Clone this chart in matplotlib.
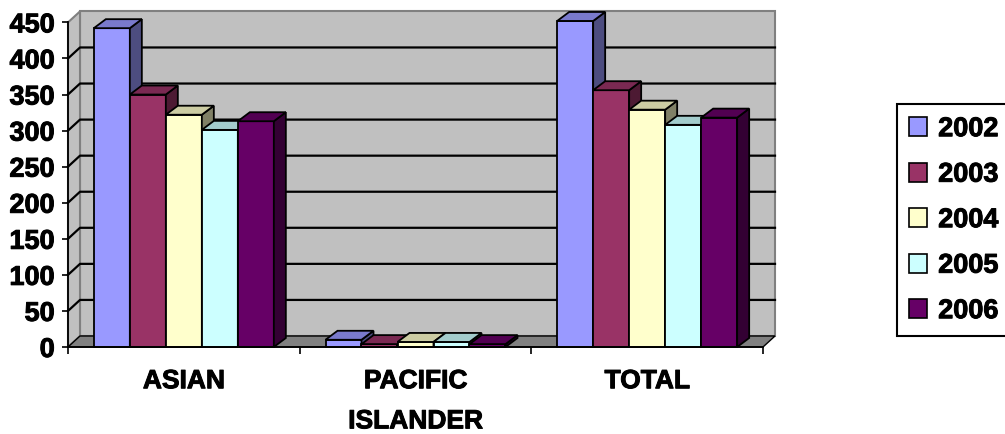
import matplotlib.pyplot as plt
import matplotlib.patheffects as pe
from matplotlib.patches import Polygon, Rectangle, Patch
from matplotlib.colors import to_rgb

plt.rcParams['font.family'] = ['Liberation Sans', 'DejaVu Sans']
plt.rcParams['font.weight'] = 'bold'

categories = ['ASIAN', 'PACIFIC\nISLANDER', 'TOTAL']
years = ['2002', '2003', '2004', '2005', '2006']
asian = [442, 350, 322, 301, 313]
pacific = [10, 4, 7, 7, 4]
total = [452, 356, 329, 308, 318]
yticks = [0, 50, 100, 150, 200, 250, 300, 350, 400, 450]

colors = ['#9999FF', '#993366', '#FFFFCC', '#CCFFFF', '#660066']


def shade(c, f):
    r, g, b = to_rgb(c)
    return (r * f, g * f, b * f)


fig = plt.figure(figsize=(10.05, 4.35), dpi=100)
W, H = 1005, 435
ax = fig.add_axes([68 / W, 87 / H, 695 / W, 324.6 / H])
ax.set_xlim(0, 3)
ax.set_ylim(0, 450)
ax.patch.set_visible(False)

# pixel -> data conversions for the fake 3d depth
px_x = 3 / 695
px_y = 450 / 324.6
wdx, wdy = 12 * px_x, 11 * px_y   # walls
bdx, bdy = 12 * px_x, 9 * px_y    # bars

# walls and floor
ax.add_patch(Rectangle((wdx, wdy), 3, 450, fc='#C0C0C0', ec='#808080', lw=1.5,
                       zorder=0.5, clip_on=False))
ax.add_patch(Polygon([(0, 0), (0, 450), (wdx, 450 + wdy), (wdx, wdy)],
                     fc='#C0C0C0', ec='#808080', lw=1.5, zorder=0.6, clip_on=False))
ax.add_patch(Polygon([(0, 0), (3, 0), (3 + wdx, wdy), (wdx, wdy)],
                     fc='#808080', ec='black', lw=1, zorder=0.6, clip_on=False))
for v in yticks[1:-1]:
    ax.plot([0, wdx, 3 + wdx], [v, v + wdy, v + wdy], color='black', lw=1.6,
            zorder=0.8, clip_on=False)

# bars
w = 36 * px_x
for j in range(len(years)):
    vals = [asian[j], pacific[j], total[j]]
    xs = [i + 0.5 + (j - 2) * w for i in range(len(categories))]
    z = 3 + j
    bars = ax.bar(xs, vals, w, color=colors[j], ec='black', lw=1.3, zorder=z,
                  clip_on=False)
    for rect in bars:
        x0 = rect.get_x()
        x1 = x0 + rect.get_width()
        h = rect.get_height()
        ax.add_patch(Polygon([(x1, 0), (x1, h), (x1 + bdx, h + bdy), (x1 + bdx, bdy)],
                             fc=shade(colors[j], 0.5), ec='black', lw=1.3,
                             zorder=z, clip_on=False))
        ax.add_patch(Polygon([(x0, h), (x1, h), (x1 + bdx, h + bdy), (x0 + bdx, h + bdy)],
                             fc=shade(colors[j], 0.8), ec='black', lw=1.3,
                             zorder=z, clip_on=False))

# axes
for s in ['top', 'right']:
    ax.spines[s].set_visible(False)
for s in ['left', 'bottom']:
    ax.spines[s].set_linewidth(1.3)
    ax.spines[s].set_zorder(10)
ax.set_yticks(yticks, [str(v) for v in yticks])
ax.tick_params(axis='y', length=4.5, width=1.2, pad=5, labelsize=19.5)
ax.set_xticks([0.5, 1.5, 2.5], categories)
ax.set_xticks([0, 1, 2, 3], minor=True)
ax.tick_params(axis='x', which='major', length=0, pad=16, labelsize=19)
ax.tick_params(axis='x', which='minor', length=5, width=1.2)
heavy = [pe.withStroke(linewidth=0.7, foreground='black')]
for lab in ax.get_xticklabels():
    lab.set_linespacing(1.85)
    lab.set_path_effects(heavy)
for lab in ax.get_yticklabels():
    lab.set_path_effects(heavy)

handles = [Patch(fc=c, ec='black', lw=1.2) for c in colors]
leg = fig.legend(handles, years, loc='upper left', bbox_to_anchor=(897 / W, 1 - 105 / H),
                 borderaxespad=0, fancybox=False, edgecolor='black', framealpha=1,
                 prop=dict(family='Liberation Sans', weight='bold', size=19.5),
                 handlelength=0.67, handleheight=0.7, handletextpad=0.4,
                 labelspacing=0.72, borderpad=0.45)
leg.get_frame().set_linewidth(1.5)
for t in leg.get_texts():
    t.set_path_effects(heavy)

fig.savefig('out.png', dpi=100)
